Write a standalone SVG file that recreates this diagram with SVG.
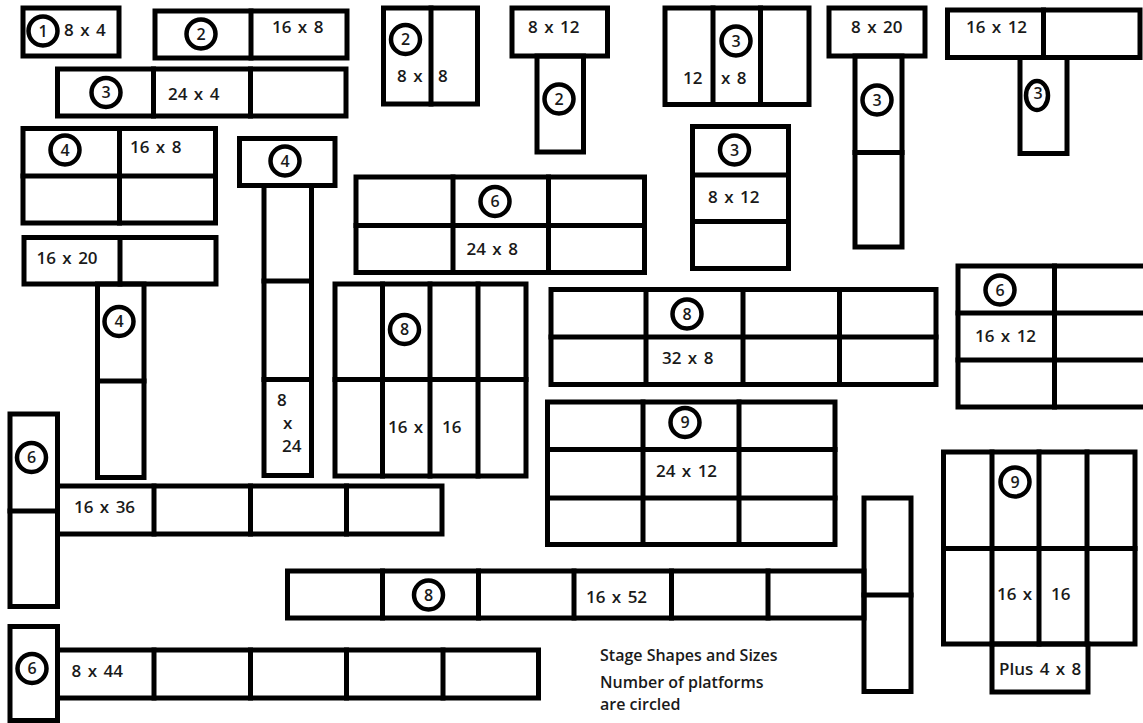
<svg xmlns="http://www.w3.org/2000/svg" width="1143" height="723" viewBox="0 0 1143 723">
<style>
.b{fill:none;stroke:#000;stroke-width:5;stroke-linecap:square}
.c{fill:none;stroke:#000;stroke-width:4.5}
.n{font-family:"Open Sans","Liberation Sans",sans-serif;font-size:16px;font-weight:600;fill:#1a1a1a;text-anchor:middle}
.t{font-family:"Open Sans","Liberation Sans",sans-serif;font-size:17px;font-weight:600;fill:#1a1a1a;word-spacing:2px}
.m{font-family:"Open Sans","Liberation Sans",sans-serif;font-size:16px;font-weight:600;fill:#1a1a1a}
</style>
<rect x="0" y="0" width="1143" height="723" fill="#fff"/>

<g id="s1-8x4">
<rect class="b" x="23" y="8" width="96" height="48"/>
<circle class="c" cx="43" cy="31" r="14.5"/><text class="n" x="43" y="36.5">1</text>
<text class="t" x="64" y="36">8 x 4</text>
</g>

<g id="s2-16x8">
<rect class="b" x="155" y="11" width="192" height="47"/>
<path class="b" d="M251 11V58"/>
<circle class="c" cx="201" cy="34" r="14.5"/><text class="n" x="201" y="39.5">2</text>
<text class="t" x="272" y="33">16 x 8</text>
</g>

<g id="s3-24x4">
<rect class="b" x="57.5" y="69" width="288.5" height="47"/>
<path class="b" d="M153.5 69V116M250.5 69V116"/>
<circle class="c" cx="106" cy="92.5" r="14.5"/><text class="n" x="106" y="98">3</text>
<text class="t" x="168" y="100">24 x 4</text>
</g>

<g id="s4-16x8">
<rect class="b" x="23" y="128.5" width="192.5" height="94.5"/>
<path class="b" d="M119.5 128.5V223M23 176H215.5"/>
<circle class="c" cx="65" cy="150" r="14.5"/><text class="n" x="65" y="155.5">4</text>
<text class="t" x="130" y="153">16 x 8</text>
</g>

<g id="s5-8x24">
<rect class="b" x="239.5" y="138.5" width="95.5" height="47"/>
<rect class="b" x="264" y="185.5" width="47.5" height="290"/>
<path class="b" d="M264 281H311.5M264 379.5H311.5"/>
<circle class="c" cx="285" cy="161" r="14.5"/><text class="n" x="285" y="166.5">4</text>
<text class="t" x="277" y="406">8</text>
<text class="t" x="283" y="429">x</text>
<text class="t" x="282" y="452">24</text>
</g>

<g id="s6-8x8">
<rect class="b" x="383.5" y="8" width="94" height="96"/>
<path class="b" d="M431 8V104"/>
<circle class="c" cx="405.5" cy="39.5" r="14.5"/><text class="n" x="405.5" y="45">2</text>
<text class="t" x="397" y="82">8 x</text>
<text class="t" x="438" y="82">8</text>
</g>

<g id="s7-8x12">
<rect class="b" x="512" y="8" width="95.5" height="48"/>
<rect class="b" x="537" y="56" width="46.5" height="96"/>
<circle class="c" cx="559" cy="99" r="14.5"/><text class="n" x="559" y="104.5">2</text>
<text class="t" x="528" y="33">8 x 12</text>
</g>

<g id="s8-12x8">
<rect class="b" x="665" y="8" width="144" height="96.5"/>
<path class="b" d="M713 8V104.5M760.5 8V104.5"/>
<circle class="c" cx="736" cy="41" r="14.5"/><text class="n" x="736" y="46.5">3</text>
<text class="t" x="683" y="84">12</text>
<text class="t" x="721" y="84">x 8</text>
</g>

<g id="s9-8x12">
<rect class="b" x="692.5" y="126.5" width="96" height="142"/>
<path class="b" d="M692.5 175H788.5M692.5 221.5H788.5"/>
<circle class="c" cx="734.5" cy="150" r="14.5"/><text class="n" x="734.5" y="155.5">3</text>
<text class="t" x="708" y="203">8 x 12</text>
</g>

<g id="s10-8x20">
<rect class="b" x="829" y="8" width="96" height="48"/>
<rect class="b" x="855" y="56" width="47" height="191"/>
<path class="b" d="M855 152.5H902"/>
<circle class="c" cx="877" cy="100" r="14.5"/><text class="n" x="877" y="105.5">3</text>
<text class="t" x="851" y="33">8 x 20</text>
</g>

<g id="s11-16x12">
<rect class="b" x="947.5" y="10" width="192.5" height="47.5"/>
<path class="b" d="M1043.5 10V57.5"/>
<rect class="b" x="1020" y="57.5" width="47" height="96"/>
<ellipse class="c" cx="1037" cy="95.5" rx="11" ry="14.5"/><text class="n" x="1038" y="99">3</text>
<text class="t" x="966" y="33">16 x 12</text>
</g>

<g id="s12-24x8">
<rect class="b" x="356" y="177" width="288.5" height="95.5"/>
<path class="b" d="M453 177V272.5M548.5 177V272.5M356 225.5H644.5"/>
<circle class="c" cx="495" cy="201.5" r="14.5"/><text class="n" x="495" y="207">6</text>
<text class="t" x="466.5" y="255">24 x 8</text>
</g>

<g id="s13-16x20">
<rect class="b" x="24" y="237.5" width="192" height="46.5"/>
<path class="b" d="M120 237.5V284"/>
<rect class="b" x="97.5" y="284" width="46.5" height="193.5"/>
<path class="b" d="M97.5 381H144"/>
<circle class="c" cx="119" cy="321.5" r="14.5"/><text class="n" x="119" y="327">4</text>
<text class="t" x="36.5" y="264">16 x 20</text>
</g>

<g id="s14-16x16">
<rect class="b" x="335" y="284" width="191" height="192"/>
<path class="b" d="M382.5 284V476M430 284V476M478 284V476M335 379.5H526"/>
<circle class="c" cx="404.5" cy="329.5" r="14.5"/><text class="n" x="404.5" y="335">8</text>
<text class="t" x="388" y="433">16 x</text>
<text class="t" x="442" y="433">16</text>
</g>

<g id="s15-32x8">
<rect class="b" x="551" y="289.5" width="385" height="95"/>
<path class="b" d="M646 289.5V384.5M743 289.5V384.5M839.5 289.5V384.5M551 337H936"/>
<circle class="c" cx="687" cy="314" r="14.5"/><text class="n" x="687" y="319.5">8</text>
<text class="t" x="662" y="364">32 x 8</text>
</g>

<g id="s16-16x12">
<rect class="b" x="958" y="266" width="200" height="141"/>
<path class="b" d="M1054.5 266V407M958 313H1158M958 360H1158"/>
<circle class="c" cx="1000" cy="290" r="14.5"/><text class="n" x="1000" y="295.5">6</text>
<text class="t" x="975" y="342">16 x 12</text>
</g>

<g id="s17-24x12">
<rect class="b" x="547.5" y="402" width="287.5" height="142.5"/>
<path class="b" d="M643 402V544.5M739 402V544.5M547.5 449.5H835M547.5 498H835"/>
<circle class="c" cx="685" cy="422.5" r="14.5"/><text class="n" x="685" y="428">9</text>
<text class="t" x="656" y="477">24 x 12</text>
</g>

<g id="s18-16x16-plus">
<rect class="b" x="943.5" y="452" width="191.5" height="192"/>
<path class="b" d="M992 452V644M1039 452V644M1087 452V644M943.5 548.5H1135"/>
<rect class="b" x="992" y="644" width="96" height="48"/>
<circle class="c" cx="1015" cy="482" r="14.5"/><text class="n" x="1015" y="487.5">9</text>
<text class="t" x="997" y="600">16 x</text>
<text class="t" x="1051" y="600">16</text>
<text class="t" x="999" y="675">Plus 4 x 8</text>
</g>

<g id="s19-16x52">
<rect class="b" x="864" y="498" width="47" height="193.5"/>
<path class="b" d="M864 595H911"/>
<rect class="b" x="287.5" y="571" width="576.5" height="47"/>
<path class="b" d="M382.5 571V618M478.5 571V618M574 571V618M671.5 571V618M768 571V618"/>
<circle class="c" cx="428.5" cy="595" r="14.5"/><text class="n" x="428.5" y="600.5">8</text>
<text class="t" x="586" y="603">16 x 52</text>
</g>

<g id="s20-16x36">
<rect class="b" x="10" y="414" width="47.5" height="192.5"/>
<path class="b" d="M10 511H57.5"/>
<rect class="b" x="57.5" y="486" width="384.5" height="48"/>
<path class="b" d="M154 486V534M250.5 486V534M346.5 486V534"/>
<circle class="c" cx="31.5" cy="457.5" r="14.5"/><text class="n" x="31.5" y="463">6</text>
<text class="t" x="74" y="513">16 x 36</text>
</g>

<g id="s21-8x44">
<rect class="b" x="10" y="626.5" width="47.5" height="94"/>
<rect class="b" x="57.5" y="650" width="481" height="48"/>
<path class="b" d="M154 650V698M250.5 650V698M346.5 650V698M443 650V698"/>
<circle class="c" cx="32" cy="668.5" r="14.5"/><text class="n" x="32" y="674">6</text>
<text class="t" x="71.5" y="677">8 x 44</text>
</g>

<g id="note">
<text class="m" x="600" y="661">Stage Shapes and Sizes</text>
<text class="m" x="600" y="688">Number of platforms</text>
<text class="m" x="600" y="710">are circled</text>
</g>
</svg>
